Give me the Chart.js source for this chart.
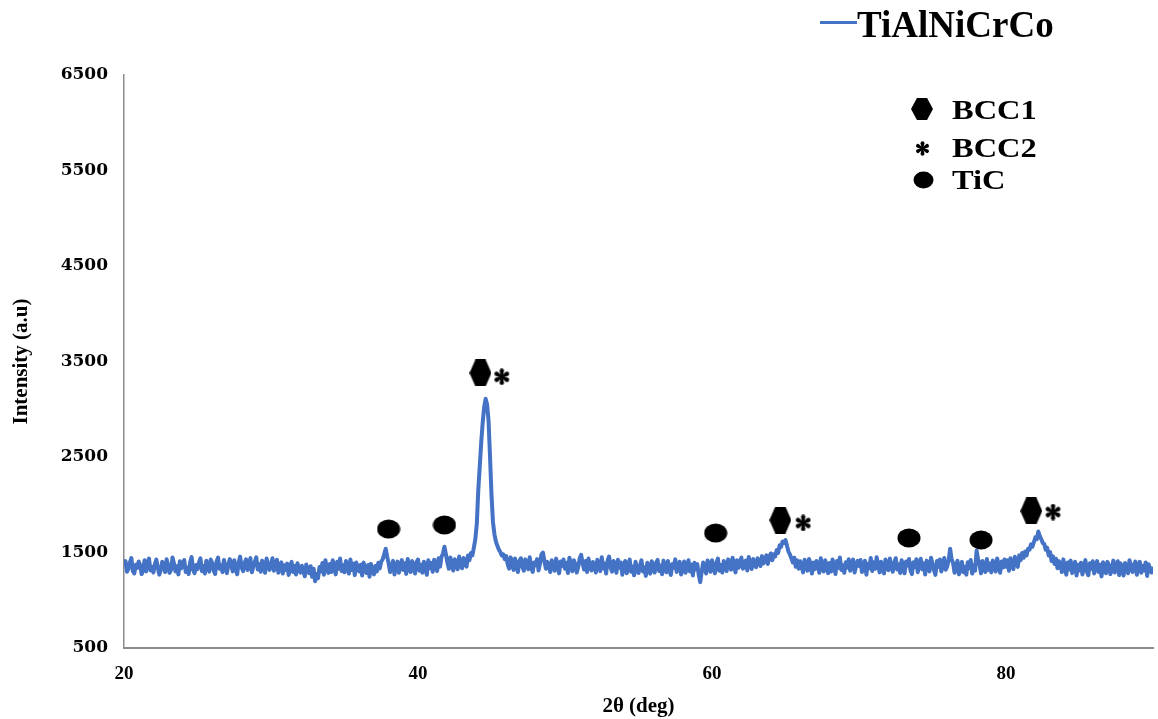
<!DOCTYPE html>
<html>
<head>
<meta charset="utf-8">
<script src="https://cdn.jsdelivr.net/npm/chart.js@4.4.1/dist/chart.umd.min.js"></script>
<style>
  body { margin: 0; background: #fff; }
  #wrap { position: relative; width: 1158px; height: 719px; }
  #xrd-chart { position: absolute; left: 0; top: 0; }
  .lbl { position: absolute; font-family: "Liberation Serif", "Times New Roman", serif; font-weight: bold; color: #000; white-space: nowrap; }
  .sym { position: absolute; }
</style>
</head>
<body>
<div id="wrap">
  <canvas id="xrd-chart" width="1158" height="719"></canvas>
  <div id="series-line" style="position:absolute;left:820px;top:21px;width:37px;height:3px;background:#4472C4;"></div>
  <div class="lbl" style="left:857px;top:6px;font-size:37px;line-height:37px;">TiAlNiCrCo</div>
  <div class="lbl" style="left:952px;top:96px;font-size:28px;line-height:28px;transform:scaleX(1.16);transform-origin:left;">BCC1</div>
  <div class="lbl" style="left:952px;top:134px;font-size:28px;line-height:28px;transform:scaleX(1.16);transform-origin:left;">BCC2</div>
  <div class="lbl" style="left:952px;top:166px;font-size:28px;line-height:28px;transform:scaleX(1.16);transform-origin:left;">TiC</div>
</div>
<script>
// XRD pattern, 2theta from 20 to 90 deg, one reading every 0.1 deg
const twoThetaStart = 20;
const twoThetaStep = 0.1;
const intensity = [
  1352,1410,1298,1331,1395,1442,1306,1280,1371,1338, // 20
  1405,1367,1274,1322,1418,1301,1389,1436,1312,1350,
  1291,1378,1425,1340,1268,1315,1402,1376,1295,1430,
  1361,1288,1319,1447,1384,1302,1356,1271,1409,1335,
  1384,1420,1296,1342,1275,1399,1452,1318,1284,1370,
  1326,1397,1438,1305,1359,1281,1413,1344,1300,1426, // 25
  1389,1312,1275,1408,1446,1330,1367,1296,1421,1352,
  1284,1376,1431,1358,1302,1419,1338,1272,1395,1457,
  1343,1305,1390,1428,1316,1365,1441,1293,1354,1402,
  1449,1321,1378,1299,1415,1362,1287,1436,1380,1318,
  1371,1440,1310,1352,1425,1288,1337,1397,1279,1366, // 30
  1318,1384,1265,1339,1402,1296,1358,1270,1387,1325,
  1290,1362,1306,1251,1374,1318,1283,1356,1245,1329,
  1198,1275,1231,1348,1302,1391,1268,1420,1333,1287,
  1380,1296,1418,1345,1271,1402,1329,1437,1305,1366,
  1293,1411,1357,1280,1426,1318,1384,1263,1395,1340, // 35
  1302,1372,1259,1394,1327,1285,1369,1246,1381,1315,
  1270,1358,1301,1392,1333,1405,1430,1480,1540,1460,
  1389,1296,1341,1412,1270,1365,1404,1288,1352,1420,
  1318,1387,1276,1433,1349,1295,1410,1365,1281,1398,
  1427,1310,1372,1289,1403,1345,1266,1418,1336,1392, // 40
  1298,1425,1361,1306,1440,1352,1455,1490,1560,1480,
  1396,1330,1448,1362,1311,1430,1385,1324,1457,1370,
  1335,1442,1398,1352,1468,1420,1495,1470,1550,1640,
  1800,2150,2400,2650,2860,3020,3110,3050,2880,2500,
  2100,1820,1690,1615,1570,1530,1505,1470,1480,1430, // 45
  1462,1378,1331,1449,1402,1318,1437,1365,1296,1412,
  1440,1352,1309,1428,1381,1325,1451,1344,1297,1396,
  1366,1431,1312,1384,1480,1500,1410,1330,1402,1356,
  1295,1418,1372,1310,1436,1348,1282,1405,1359,1427,
  1330,1392,1286,1445,1365,1303,1419,1378,1290,1350, // 50
  1440,1475,1385,1322,1410,1296,1437,1358,1312,1401,
  1349,1290,1423,1376,1305,1451,1332,1384,1279,1417,
  1458,1344,1299,1412,1363,1287,1425,1340,1395,1268,
  1372,1410,1283,1335,1426,1298,1352,1261,1403,1320,
  1285,1366,1418,1302,1345,1255,1392,1331,1279,1409, // 55
  1351,1290,1396,1422,1307,1364,1272,1415,1338,1293,
  1410,1318,1264,1379,1341,1428,1295,1356,1402,1270,
  1336,1405,1288,1350,1419,1301,1373,1259,1392,1321,
  1378,1263,1190,1301,1395,1332,1280,1416,1357,1298,
  1420,1346,1283,1392,1436,1310,1369,1291,1411,1355, // 60
  1305,1428,1374,1320,1445,1366,1292,1418,1340,1401,
  1446,1331,1389,1415,1312,1452,1360,1327,1431,1378,
  1346,1440,1402,1358,1462,1385,1420,1470,1380,1455,
  1490,1420,1480,1460,1525,1495,1575,1560,1615,1600,
  1630,1570,1510,1480,1440,1395,1445,1350,1418,1330, // 65
  1408,1348,1292,1425,1371,1310,1433,1386,1279,1394,
  1326,1412,1363,1288,1440,1345,1301,1418,1370,1284,
  1391,1302,1427,1356,1275,1410,1339,1448,1317,1366,
  1287,1398,1341,1430,1309,1372,1425,1290,1355,1412,
  1360,1422,1295,1338,1414,1268,1381,1335,1443,1306, // 70
  1399,1329,1451,1370,1292,1404,1347,1281,1426,1362,
  1315,1437,1358,1299,1395,1440,1323,1376,1286,1419,
  1353,1282,1406,1365,1432,1311,1274,1398,1347,1429,
  1294,1371,1435,1325,1386,1270,1415,1358,1302,1446,
  1380,1318,1266,1410,1349,1427,1301,1372,1442,1320, // 75
  1355,1420,1540,1430,1390,1288,1365,1412,1271,1336,
  1402,1293,1350,1268,1398,1335,1421,1279,1365,1310,
  1520,1430,1376,1282,1410,1349,1295,1432,1318,1385,
  1292,1416,1358,1301,1437,1370,1288,1405,1343,1426,
  1351,1418,1309,1440,1372,1325,1456,1390,1350,1470, // 80
  1420,1495,1445,1510,1470,1540,1530,1585,1560,1610,
  1660,1640,1720,1670,1640,1600,1590,1530,1550,1470,
  1505,1410,1460,1380,1435,1335,1410,1370,1296,1428,
  1340,1268,1395,1322,1415,1284,1350,1402,1259,1371,
  1312,1393,1270,1345,1420,1301,1262,1387,1330,1408, // 85
  1281,1356,1410,1297,1372,1250,1398,1335,1283,1402,
  1365,1274,1327,1415,1290,1352,1408,1263,1386,1318,
  1259,1390,1336,1283,1420,1347,1296,1372,1405,1266,
  1348,1402,1287,1360,1311,1396,1255,1378,1332,1290,
  1350 // 90
];

// phase markers (angle, height where the symbol sits)
const bcc1Angles = [44.25, 64.65, 81.72];
const bcc1Heights = [3380, 1840, 1935];
const bcc2Angles = [45.7, 66.2, 83.2];
const bcc2Heights = [3340, 1809, 1924];
const ticAngles = [38.0, 41.8, 60.25, 73.4, 78.3];
const ticHeights = [1746, 1788, 1704, 1652, 1631];

const xTicks = [20, 40, 60, 80];
const yTicks = [500, 1500, 2500, 3500, 4500, 5500, 6500];

const lineColor = '#4472C4';
const axisColor = '#8c8c8c';

// Marker images

function makeHexagon(w, h) {
    const c = document.createElement('canvas');
    c.width = w; c.height = h;
    const ctx = c.getContext('2d');
    ctx.fillStyle = '#000';
    ctx.beginPath();
    ctx.moveTo(0, h / 2);
    ctx.lineTo(w * 0.27, 0);
    ctx.lineTo(w * 0.73, 0);
    ctx.lineTo(w, h / 2);
    ctx.lineTo(w * 0.73, h);
    ctx.lineTo(w * 0.27, h);
    ctx.closePath();
    ctx.fill();
    return c;
}

function makeEllipse(w, h) {
    const c = document.createElement('canvas');
    c.width = w; c.height = h;
    const ctx = c.getContext('2d');
    ctx.fillStyle = '#000';
    ctx.beginPath();
    ctx.ellipse(w / 2, h / 2, w / 2 - 0.5, h / 2 - 0.5, 0, 0, Math.PI * 2);
    ctx.fill();
    return c;
}

// six teardrop petals, like a bold serif asterisk
function makeAsterisk(size) {
    const c = document.createElement('canvas');
    c.width = size; c.height = size;
    const ctx = c.getContext('2d');
    ctx.fillStyle = '#000';
    const m = size / 2;
    const r = size / 2 - 0.5;
    for (let i = 0; i < 6; i++) {
        const a = -Math.PI / 2 + i * Math.PI / 3;
        ctx.save();
        ctx.translate(m, m);
        ctx.rotate(a);
        ctx.beginPath();
        ctx.moveTo(0, -size * 0.05);
        ctx.lineTo(r * 0.75, -size * 0.13);
        ctx.arc(r * 0.75, 0, size * 0.13, -Math.PI / 2, Math.PI / 2);
        ctx.lineTo(0, size * 0.05);
        ctx.closePath();
        ctx.fill();
        ctx.restore();
    }
    return c;
}

function placeSymbol(el, cx, cy) {
    el.className = 'sym';
    el.style.left = (cx - el.width / 2) + 'px';
    el.style.top = (cy - el.height / 2) + 'px';
    document.getElementById('wrap').appendChild(el);
}

placeSymbol(makeHexagon(22, 22), 922, 109);
placeSymbol(makeAsterisk(15), 922, 148);
placeSymbol(makeEllipse(21, 18), 923, 180);

// Build datasets

const patternPoints = intensity.map((v, i) => ({ x: twoThetaStart + i * twoThetaStep, y: v }));
const pairUp = (xs, ys) => xs.map((x, i) => ({ x: x, y: ys[i] }));

const tickFontY = { family: '"DejaVu Serif", serif', weight: 'bold', size: 17 };
const tickFontX = { family: '"Liberation Serif", serif', weight: 'bold', size: 19 };
const titleFont = { family: '"Liberation Serif", serif', weight: 'bold', size: 21 };

const xrdChart = new Chart(document.getElementById('xrd-chart'), {
    type: 'scatter',
    data: {
        datasets: [
            {
                label: 'TiAlNiCrCo',
                data: patternPoints,
                showLine: true,
                borderColor: lineColor,
                borderWidth: 4,
                pointRadius: 0,
                tension: 0,
                borderJoinStyle: 'round'
            },
            {
                label: 'BCC1',
                data: pairUp(bcc1Angles, bcc1Heights),
                pointStyle: makeHexagon(22, 27)
            },
            {
                label: 'BCC2',
                data: pairUp(bcc2Angles, bcc2Heights),
                pointStyle: makeAsterisk(17)
            },
            {
                label: 'TiC',
                data: pairUp(ticAngles, ticHeights),
                pointStyle: makeEllipse(24, 20)
            }
        ]
    },
    options: {
        responsive: false,
        animation: false,
        devicePixelRatio: 1,
        layout: { padding: { top: 75, right: 0, bottom: 0, left: 0 } },
        plugins: {
            legend: { display: false },
            tooltip: { enabled: false }
        },
        scales: {
            x: {
                type: 'linear',
                min: 20,
                max: 90,
                grid: { display: false, drawTicks: false },
                border: { display: true, color: axisColor, width: 2 },
                afterBuildTicks: scale => {
                    scale.ticks = xTicks.map(v => ({ value: v }));
                },
                afterFit: scale => { scale.height = 71; },
                ticks: {
                    font: tickFontX,
                    color: '#000',
                    padding: 15,
                    maxRotation: 0,
                    callback: v => String(v)
                },
                title: {
                    display: true,
                    text: '2θ (deg)',
                    font: titleFont,
                    color: '#000',
                    padding: { top: 0, bottom: 0 }
                }
            },
            y: {
                min: 500,
                max: 6500,
                grid: { display: false, drawTicks: false },
                border: { display: true, color: axisColor, width: 1.5 },
                afterBuildTicks: scale => {
                    scale.ticks = yTicks.map(v => ({ value: v }));
                },
                afterFit: scale => { scale.width = 124; },
                ticks: {
                    font: tickFontY,
                    color: '#000',
                    padding: 16,
                    callback: v => String(v)
                },
                title: {
                    display: true,
                    text: 'Intensity (a.u)',
                    font: titleFont,
                    color: '#000',
                    padding: { top: 9, bottom: 0 }
                }
            }
        }
    }
});
</script>
</body>
</html>
